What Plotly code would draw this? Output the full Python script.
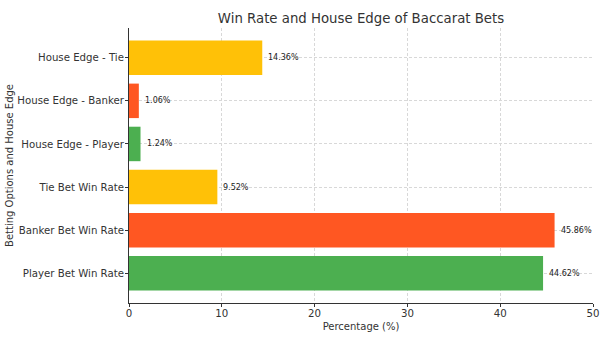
import plotly.graph_objects as go

categories = ["Player Bet Win Rate", "Banker Bet Win Rate", "Tie Bet Win Rate",
              "House Edge - Player", "House Edge - Banker", "House Edge - Tie"]
values = [44.62, 45.86, 9.52, 1.24, 1.06, 14.36]
colors = ["#4CAF50", "#FF5722", "#FFC107", "#4CAF50", "#FF5722", "#FFC107"]
labels = [f"{v:.2f}%" for v in values]

fig = go.Figure()
fig.add_trace(go.Bar(
    y=categories, x=values, orientation="h",
    marker=dict(color=colors, line=dict(width=0)),
    width=0.8, hoverinfo="skip",
))
for c, v, t in zip(categories, values, labels):
    fig.add_annotation(x=v, y=c, text=t, showarrow=False, xanchor="left",
                       xshift=4, font=dict(size=8, color="#222"))

axis_common = dict(showline=True, linecolor="#333", linewidth=1,
                   ticks="outside", ticklen=3, tickcolor="#333",
                   tickfont=dict(size=10.2, color="#333"),
                   showgrid=True, gridcolor="#d8d8d8", griddash="3px,2px", gridwidth=0.8,
                   zeroline=False, mirror=False, automargin=False, layer="below traces")

fig.update_layout(
    width=608, height=338,
    margin=dict(l=129, r=15, t=28, b=35),
    paper_bgcolor="white", plot_bgcolor="white",
    font=dict(family="DejaVu Sans", color="#333"),
    title=dict(text="Win Rate and House Edge of Baccarat Bets", x=0.5, xanchor="center",
               xref="paper", y=0.945, yanchor="middle", font=dict(size=13.3, color="#333")),
    showlegend=False,
    xaxis=dict(range=[0, 50], tickvals=[0, 10, 20, 30, 40, 50], ticklabelstandoff=-2,
               title=dict(text="Percentage (%)", font=dict(size=10, color="#333"), standoff=4),
               **axis_common),
    yaxis=dict(range=[-0.69, 5.69], categoryorder="array", categoryarray=categories,
               ticklabelstandoff=-1,
               title=dict(text="Betting Options and House Edge", font=dict(size=10, color="#333"), standoff=1),
               **axis_common),
)

fig.write_html("out.html")
